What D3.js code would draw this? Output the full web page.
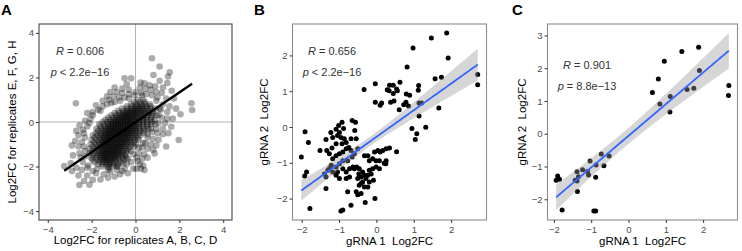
<!DOCTYPE html>
<html>
<head>
<meta charset="utf-8">
<script src="https://cdn.jsdelivr.net/npm/d3@7"></script>
<style>
  body { margin: 0; background: #fff; }
  text { font-family: "Liberation Sans", Arial, sans-serif; }
</style>
</head>
<body>
<svg id="viz" width="742" height="251"></svg>
<script>
// ---- data ----

// panel A: dense core of the cloud, one row per y value: [y, [x values]]
const coreRowsA = [
  [-2.0, [-1.5,-1.25,-1.05,-0.8]],
  [-1.9, [-1.72,-1.5,-1.33,-1.18,-1.0,-0.78]],
  [-1.8, [-1.88,-1.64,-1.46,-1.32,-1.2,-1.06,-0.9,-0.66]],
  [-1.7, [-1.97,-1.72,-1.55,-1.42,-1.31,-1.19,-1.07,-0.93,-0.76,-0.52]],
  [-1.6, [-2.02,-1.8,-1.62,-1.49,-1.38,-1.27,-1.15,-1.04,-0.92,-0.78,-0.6,-0.42]],
  [-1.5, [-1.95,-1.74,-1.58,-1.46,-1.35,-1.24,-1.12,-1.01,-0.9,-0.78,-0.64,-0.48]],
  [-1.4, [-2.08,-1.85,-1.67,-1.53,-1.42,-1.31,-1.2,-1.09,-0.98,-0.86,-0.74,-0.6,-0.42]],
  [-1.3, [-1.98,-1.76,-1.6,-1.48,-1.37,-1.26,-1.15,-1.04,-0.93,-0.82,-0.7,-0.56,-0.38,-0.2]],
  [-1.2, [-2.1,-1.86,-1.68,-1.54,-1.43,-1.32,-1.21,-1.1,-0.99,-0.88,-0.77,-0.65,-0.5,-0.32]],
  [-1.1, [-1.95,-1.74,-1.58,-1.46,-1.35,-1.24,-1.13,-1.02,-0.91,-0.8,-0.69,-0.57,-0.43,-0.26,-0.06]],
  [-1.0, [-2.05,-1.82,-1.64,-1.5,-1.39,-1.28,-1.17,-1.06,-0.95,-0.84,-0.73,-0.62,-0.5,-0.36,-0.18,0.02]],
  [-0.9, [-1.9,-1.68,-1.52,-1.4,-1.29,-1.18,-1.07,-0.96,-0.85,-0.74,-0.63,-0.52,-0.4,-0.26,-0.08]],
  [-0.8, [-2.0,-1.78,-1.6,-1.46,-1.35,-1.24,-1.13,-1.02,-0.91,-0.8,-0.69,-0.58,-0.47,-0.35,-0.2,-0.02,0.15]],
  [-0.7, [-1.86,-1.64,-1.48,-1.36,-1.25,-1.14,-1.03,-0.92,-0.81,-0.7,-0.59,-0.48,-0.37,-0.24,-0.08,0.1]],
  [-0.6, [-1.95,-1.72,-1.55,-1.42,-1.31,-1.2,-1.09,-0.98,-0.87,-0.76,-0.65,-0.54,-0.43,-0.31,-0.17,0.0,0.22]],
  [-0.5, [-1.8,-1.58,-1.42,-1.3,-1.19,-1.08,-0.97,-0.86,-0.75,-0.64,-0.53,-0.42,-0.31,-0.19,-0.04,0.14,0.36]],
  [-0.4, [-1.7,-1.5,-1.35,-1.23,-1.12,-1.01,-0.9,-0.79,-0.68,-0.57,-0.46,-0.35,-0.24,-0.12,0.02,0.2,0.42]],
  [-0.3, [-1.78,-1.55,-1.38,-1.25,-1.14,-1.03,-0.92,-0.81,-0.7,-0.59,-0.48,-0.37,-0.26,-0.14,0.0,0.16,0.36,0.58]],
  [-0.2, [-1.6,-1.4,-1.25,-1.13,-1.02,-0.91,-0.8,-0.69,-0.58,-0.47,-0.36,-0.25,-0.13,0.0,0.15,0.33,0.55]],
  [-0.1, [-1.65,-1.42,-1.25,-1.12,-1.01,-0.9,-0.79,-0.68,-0.57,-0.46,-0.35,-0.24,-0.12,0.01,0.16,0.34,0.54,0.72]],
  [0.0,  [-1.5,-1.28,-1.12,-1.0,-0.89,-0.78,-0.67,-0.56,-0.45,-0.34,-0.23,-0.11,0.02,0.17,0.34,0.53,0.76]],
  [0.1,  [-1.38,-1.16,-1.0,-0.88,-0.77,-0.66,-0.55,-0.44,-0.33,-0.22,-0.1,0.03,0.17,0.33,0.5,0.7,0.88]],
  [0.2,  [-1.25,-1.02,-0.86,-0.74,-0.63,-0.52,-0.41,-0.3,-0.19,-0.07,0.06,0.2,0.35,0.52,0.72]],
  [0.3,  [-1.1,-0.88,-0.72,-0.6,-0.49,-0.38,-0.27,-0.16,-0.04,0.09,0.23,0.38,0.55,0.75,0.95]],
  [0.4,  [-0.95,-0.72,-0.56,-0.44,-0.33,-0.22,-0.1,0.02,0.15,0.29,0.44,0.61,0.8]],
  [0.5,  [-0.8,-0.55,-0.38,-0.25,-0.13,-0.01,0.12,0.26,0.41,0.58,0.78]],
  [0.6,  [-0.62,-0.38,-0.2,-0.06,0.07,0.2,0.34,0.5,0.68,0.9]],
  [0.7,  [-0.4,-0.15,0.03,0.18,0.33,0.5,0.7]],
  [0.8,  [-0.2,0.05,0.25,0.45,0.65]],
  [0.9,  [-0.05,0.2,0.42]],
  [1.0,  [0.1,0.35]]
];

// panel A: looser edge of the cloud and outliers [x, y]
const haloA = [
  [-2.56,-2.83],[-2.1,-2.82],[-2.35,-2.65],[-1.95,-2.6],[-1.6,-2.58],[-1.25,-2.5],[-0.95,-2.45],[-0.35,-2.3],
  [-0.7,-2.35],[-2.6,-2.4],[-2.2,-2.4],[-1.8,-2.3],[-1.45,-2.35],[-1.15,-2.25],[-0.85,-2.15],[-0.5,-2.1],
  [-0.1,-2.1],[0.05,-2.1],[0.25,-2.1],[0.41,-2.16],[-2.9,-2.2],[-3.25,-1.98],[-2.95,-1.85],[-2.7,-2.05],
  [-2.45,-2.15],[-2.2,-2.05],[-1.95,-2.2],[-0.4,-1.9],[-0.2,-1.8],[0.1,-1.75],[0.35,-1.95],[-2.4,-1.8],
  [-2.5,-1.6],[-1.25,-2.15],[-0.6,-2.2],
  [-2.85,-1.5],[-2.55,-1.4],[-2.3,-1.3],[-2.6,-1.1],[-2.9,-1.05],[-2.75,-0.85],[-2.45,-0.9],[-2.3,-0.7],
  [-2.6,-0.6],[-2.7,-0.4],[-2.4,-0.35],[-2.55,-0.15],[-2.2,-0.2],[-2.3,0.05],[-2.05,0.15],[-2.2,0.4],
  [-1.95,0.45],[-1.7,0.55],[-2.72,0.84],[-1.8,0.75],[-1.5,0.7],[-1.3,0.8],[-1.5,0.95],[-1.2,1.0],
  [-0.95,0.9],[-0.7,0.95],[-1.3,1.15],[-1.0,1.15],[-0.75,1.1],[-0.5,1.1],[-1.15,1.35],[-0.85,1.35],
  [-0.6,1.3],[-0.3,1.25],[-0.95,1.55],[-0.6,1.5],[-0.3,1.45],[-0.5,1.96],[-0.2,1.96],[-0.4,1.7],
  [-0.05,1.2],
  [0.0,1.35],[0.25,1.3],[0.5,1.25],[0.75,1.2],[1.0,1.1],[0.2,1.55],[0.45,1.5],[0.7,1.45],
  [0.95,1.35],[1.2,1.3],[0.23,1.77],[0.41,1.74],[0.65,1.65],[0.9,1.6],[1.25,1.55],[0.82,2.11],
  [1.1,1.85],[1.48,2.04],[1.56,2.23],[1.1,2.49],[0.75,2.86],[1.45,1.75],[1.65,1.4],[1.4,1.05],
  [1.75,1.05],[1.25,0.8],[1.55,0.7],[2.55,0.84],[2.58,0.54],[1.85,0.6],[2.05,0.35],[1.15,0.55],
  [1.45,0.45],[1.2,0.2],[1.45,0.15],[1.7,0.15],[1.05,-0.05],[1.35,-0.05],[1.63,-0.21],[0.95,-0.3],
  [1.25,-0.3],[0.75,-0.45],[1.0,-0.5],[1.25,-0.55],[1.5,-0.5],[0.55,-0.7],[0.8,-0.75],[1.05,-0.8],
  [1.97,-0.81],[0.45,-0.95],[0.7,-1.0],[0.95,-1.05],[1.4,-1.1],[0.3,-1.15],[0.55,-1.2],[0.8,-1.25],
  [0.15,-1.4],[0.4,-1.45],[0.87,-1.41],[0.05,-1.6],[0.3,-1.65],[0.55,-1.6],[0.2,-1.9],
  [-2.15,-1.95],[-2.3,-1.55],[-2.35,-1.1],[-2.35,-0.5],[-2.1,-0.05],[-1.95,0.3],[-1.6,0.5],[-1.1,0.85],
  [-0.3,1.05],[0.3,1.2],[0.95,0.95],[1.1,0.6],[1.05,0.3],[0.9,-0.1],[0.7,-0.3],[0.55,-0.55],
  [0.35,-0.95],[0.15,-1.15],[-0.1,-1.45],[-0.35,-1.65],[-0.55,-1.85],[-0.85,-2.0],[-1.2,-2.05],[-1.75,-2.1]
];

// panel A: least-squares line as drawn in the figure (ends at the data range)
const fitLineA = [[-3.25, -2.19], [2.58, 1.72]];

// panel B: gRNA 1 vs gRNA 2 [x, y]
const ptsB = [
  [1.88,2.63],[1.47,2.49],[0.98,2.21],[1.92,1.93],[0.82,1.68],[2.71,1.47],[2.71,1.18],[1.57,1.35],
  [1.74,1.39],[1.67,0.53],[-0.33,1.05],[-0.03,1.21],[0.29,1.04],[0.35,1.17],[0.45,1.17],[0.54,1.06],
  [0.63,1.25],[1.13,1.16],[1.12,1.03],[0.34,1.01],[0.45,0.94],[0.56,1.01],[-0.03,0.69],[0.10,0.61],
  [0.14,0.67],[0.38,0.69],[0.47,0.73],[0.61,0.48],[0.79,0.69],[0.86,0.59],[0.89,0.89],[0.80,0.92],
  [1.14,0.67],[1.21,0.67],[1.14,0.31],[0.95,-0.04],[1.32,-0.01],[1.08,-0.19],[1.04,-0.35],[0.73,0.62],
  [-1.91,-0.13],[-1.82,-0.43],[-2.01,-0.84],[-1.87,-1.26],[-1.92,-1.37],[-1.51,-0.66],[-1.35,-0.35],[-1.33,-0.66],
  [-1.22,-0.15],[-1.17,-0.29],[-1.08,-0.06],[-1.01,0.04],[-0.92,0.13],[-0.88,-0.04],[-0.99,-0.15],[-1.04,-0.24],
  [-0.95,-0.29],[-0.86,-0.33],[-0.81,-0.43],[-0.92,-0.47],[-1.08,-0.47],[-1.19,-0.59],[-1.26,-0.75],[-1.17,-0.89],
  [-1.08,-0.80],[-0.99,-0.75],[-0.90,-0.70],[-0.81,-0.61],[-0.74,-0.57],[-0.68,-0.66],[-0.59,-0.75],[-0.65,0.18],
  [-0.56,0.13],[-0.58,-0.10],[-0.68,-0.33],[-0.54,-0.33],[-0.50,-0.61],[-0.65,-0.84],[-0.77,-0.94],[-0.90,-0.94],
  [-0.99,-1.03],[-1.08,-1.12],[-1.21,-1.07],[-1.30,-1.21],[-1.39,-1.31],[-1.35,-1.40],[-1.26,-1.17],[-1.17,-1.26],
  [-1.04,-1.26],[-0.90,-1.17],[-0.81,-1.26],[-0.72,-1.17],[-0.63,-1.12],[-0.53,-1.12],[-0.46,-1.17],[-0.37,-1.26],
  [-0.32,-1.35],[-0.41,-1.40],[-0.50,-1.44],[-0.37,-1.54],[-0.28,-1.44],[-0.23,-1.35],[-0.14,-1.31],[-0.19,-1.21],
  [-0.10,-1.17],[-0.01,-1.12],[0.08,-1.17],[-0.01,-0.94],[-0.10,-0.89],[-0.19,-0.94],[-0.05,-0.70],[0.04,-0.66],
  [0.10,-0.70],[0.17,-0.66],[0.26,-0.61],[0.35,-0.59],[-0.23,-0.80],[-0.32,-0.80],[-0.41,-1.58],[-0.46,-1.63],
  [-0.32,-1.68],[-0.23,-1.68],[-0.04,-2.00],[-0.54,-1.81],[-0.50,-1.89],[-0.41,-1.86],[-0.77,-1.81],[-0.68,-2.19],
  [-0.90,-2.32],[-0.95,-2.35],[-1.35,-1.72],[-1.78,-2.28],[-0.59,-1.17],[-0.72,-1.40],[-0.81,-1.44],[-0.99,-1.44],
  [-1.08,-1.35],[-0.47,-1.31],[-0.19,-1.54],[-0.08,-1.49],[0.26,-0.94],[0.08,-0.94],[-0.30,-2.11],[0.54,-0.69],
  [0.25,-1.03],[0.21,-1.01]
];

// panel C: subset of guides [x, y]
const ptsC = [
  [1.88,2.64],[1.43,2.51],[0.96,2.21],[1.90,1.93],[0.80,1.67],[2.69,1.47],[2.68,1.17],[1.57,1.35],
  [1.75,1.39],[0.64,1.26],[1.12,1.14],[0.84,0.91],[1.11,0.66],[-0.73,-0.62],[-0.52,-0.68],[-1.03,-0.83],
  [-0.87,-0.95],[-0.66,-0.98],[-1.23,-1.10],[-1.10,-1.15],[-1.07,-1.26],[-1.38,-1.16],[-1.34,-1.31],[-1.43,-1.42],
  [-1.38,-1.44],[-0.88,-1.33],[-1.90,-1.29],[-1.85,-1.39],[-1.94,-1.42],[-1.37,-1.76],[-1.78,-2.33],[-0.93,-2.36],
  [-0.88,-2.36]
];

const ticksA = [-4, -2, 0, 2, 4];
const ticksBx = [-2, -1, 0, 1, 2];
const ticksBy = [-2, -1, 0, 1, 2];
const ticksCx = [-2, -1, 0, 1, 2];
const ticksCy = [-2, -1, 0, 1, 2, 3];

const statsA = ["0.606", "< 2.2e\u221216"];
const statsB = ["0.656", "< 2.2e\u221216"];
const statsC = ["0.901", "= 8.8e\u221213"];

// ---- helpers ----
const svg = d3.select("#viz");

// 97.5% t quantile, series expansion around the normal one
function tQ(df) {
  const z = 1.959964;
  return z + (z ** 3 + z) / (4 * df) + (5 * z ** 5 + 16 * z ** 3 + 3 * z) / (96 * df * df);
}

// lm(y ~ x) with 95% confidence band, like geom_smooth(method = "lm")
function linFit(pts) {
  const n = pts.length;
  const mx = d3.mean(pts, d => d[0]), my = d3.mean(pts, d => d[1]);
  let sxx = 0, sxy = 0;
  pts.forEach(([x, y]) => { sxx += (x - mx) ** 2; sxy += (x - mx) * (y - my); });
  const b = sxy / sxx, a = my - b * mx;
  const s = Math.sqrt(d3.sum(pts, ([x, y]) => (y - a - b * x) ** 2) / (n - 2));
  const t = tQ(n - 2);
  return { a, b, half: x => t * s * Math.sqrt(1 / n + (x - mx) ** 2 / sxx) };
}

function expand([lo, hi]) {
  const e = (hi - lo) * 0.05;
  return [lo - e, hi + e];
}

function drawPanel(o) {
  const g = svg.append("g");
  const xr = d3.extent(o.pts, d => d[0]);

  let band = null;
  if (o.ribbon) {
    const fit = linFit(o.pts);
    band = d3.range(0, 81).map(i => {
      const xv = xr[0] + (xr[1] - xr[0]) * i / 80, yv = fit.a + fit.b * xv, h = fit.half(xv);
      return { x: xv, y: yv, lo: yv - h, hi: yv + h };
    });
  }

  let xd, yd;
  if (o.fixed) { xd = expand(o.fixed); yd = expand(o.fixed); }
  else {
    xd = expand(xr);
    const ys = o.pts.map(d => d[1]);
    band.forEach(b => { ys.push(b.lo, b.hi); });
    yd = expand(d3.extent(ys));
  }
  const x = d3.scaleLinear().domain(xd).range([o.left, o.right]);
  const y = d3.scaleLinear().domain(yd).range([o.bottom, o.top]);

  // reference lines at 0 (panel A)
  if (o.zeroLines) {
    g.append("line").attr("x1", x(0)).attr("x2", x(0)).attr("y1", o.top).attr("y2", o.bottom)
      .attr("stroke", "#b3b3b3").attr("stroke-width", 1.1);
    g.append("line").attr("x1", o.left).attr("x2", o.right).attr("y1", y(0)).attr("y2", y(0))
      .attr("stroke", "#b3b3b3").attr("stroke-width", 1.1);
  }

  g.selectAll("circle.pt").data(o.pts).join("circle")
    .attr("class", "pt")
    .attr("cx", d => x(d[0])).attr("cy", d => y(d[1]))
    .attr("r", o.r)
    .attr("fill", "#000")
    .attr("fill-opacity", o.alpha);

  const line = d3.line().x(d => x(d[0])).y(d => y(d[1]));
  if (band) {
    g.append("path").datum(band)
      .attr("d", d3.area().x(d => x(d.x)).y0(d => y(d.lo)).y1(d => y(d.hi)))
      .attr("fill", "#999").attr("fill-opacity", 0.4);
    g.append("path").datum(band.map(d => [d.x, d.y]))
      .attr("d", line)
      .attr("fill", "none").attr("stroke", o.lineColor).attr("stroke-width", o.lineWidth);
  } else {
    g.append("path").datum(o.fitLine)
      .attr("d", line)
      .attr("fill", "none").attr("stroke", o.lineColor).attr("stroke-width", o.lineWidth);
  }

  // border
  g.append("rect").attr("x", o.left).attr("y", o.top)
    .attr("width", o.right - o.left).attr("height", o.bottom - o.top)
    .attr("fill", "none").attr("stroke", o.border).attr("stroke-width", 1.1);

  // axes
  const ax = g.append("g").attr("transform", `translate(0,${o.bottom})`)
    .call(d3.axisBottom(x).tickValues(o.xTicks).tickSize(3).tickPadding(3).tickFormat(d3.format("")));
  const ay = g.append("g").attr("transform", `translate(${o.left},0)`)
    .call(d3.axisLeft(y).tickValues(o.yTicks).tickSize(3).tickPadding(2).tickFormat(d3.format("")));
  [ax, ay].forEach(a => {
    a.select(".domain").remove();
    a.selectAll(".tick line").attr("stroke", "#333");
    a.selectAll(".tick text").attr("fill", "#4d4d4d").style("font-size", "9.5px")
      .style("font-family", "'Liberation Sans', Arial, sans-serif");
  });

  // axis titles
  g.append("text").attr("x", (o.left + o.right) / 2).attr("y", o.xTitleY)
    .attr("text-anchor", "middle").style("font-size", "11.5px").style("white-space", "pre")
    .text(o.xTitle);
  g.append("text").attr("transform", `translate(${o.yTitleX},${(o.top + o.bottom) / 2}) rotate(-90)`)
    .attr("text-anchor", "middle").style("font-size", "11.5px").style("white-space", "pre")
    .text(o.yTitle);

  // correlation label
  const st = g.append("g").attr("fill", "#333").style("font-size", "11px");
  const t1 = st.append("text").attr("x", o.statX).attr("y", o.statY).attr("text-anchor", "middle");
  t1.append("tspan").style("font-style", "italic").text("R");
  t1.append("tspan").text(" = " + o.stats[0]);
  const t2 = st.append("text").attr("x", o.statX).attr("y", o.statY + 21).attr("text-anchor", "middle");
  t2.append("tspan").style("font-style", "italic").text("p");
  t2.append("tspan").text(" " + o.stats[1]);

  // panel tag
  g.append("text").attr("x", o.tagX).attr("y", 15)
    .style("font-size", "15px").style("font-weight", "bold").text(o.tag);
}

const ptsA = haloA.concat(coreRowsA.flatMap(([yv, xs]) => xs.map(xv => [xv, yv])));

drawPanel({
  tag: "A", tagX: 1, pts: ptsA, fixed: [-4, 4], r: 3.3, alpha: 0.33,
  left: 39, right: 232, top: 24, bottom: 220, border: "#444",
  xTicks: ticksA, yTicks: ticksA, zeroLines: true, ribbon: false, fitLine: fitLineA,
  lineColor: "#000", lineWidth: 2.3,
  xTitle: "Log2FC for replicates A, B, C, D", yTitle: "Log2FC for replicates E, F, G, H",
  xTitleY: 244, yTitleX: 16, statX: 80, statY: 55, stats: statsA
});

drawPanel({
  tag: "B", tagX: 254, pts: ptsB, r: 2.5, alpha: 1,
  left: 292.5, right: 486.5, top: 24, bottom: 220, border: "#8c8c8c",
  xTicks: ticksBx, yTicks: ticksBy, ribbon: true,
  lineColor: "#3366FF", lineWidth: 1.8,
  xTitle: "gRNA 1  Log2FC", yTitle: "gRNA 2  Log2FC",
  xTitleY: 245, yTitleX: 268, statX: 332, statY: 55, stats: statsB
});

drawPanel({
  tag: "C", tagX: 512, pts: ptsC, r: 2.5, alpha: 1,
  left: 547.5, right: 737.5, top: 24, bottom: 220, border: "#8c8c8c",
  xTicks: ticksCx, yTicks: ticksCy, ribbon: true,
  lineColor: "#3366FF", lineWidth: 1.8,
  xTitle: "gRNA 1  Log2FC", yTitle: "gRNA 2  Log2FC",
  xTitleY: 245, yTitleX: 526, statX: 587, statY: 69, stats: statsC
});
</script>
</body>
</html>
